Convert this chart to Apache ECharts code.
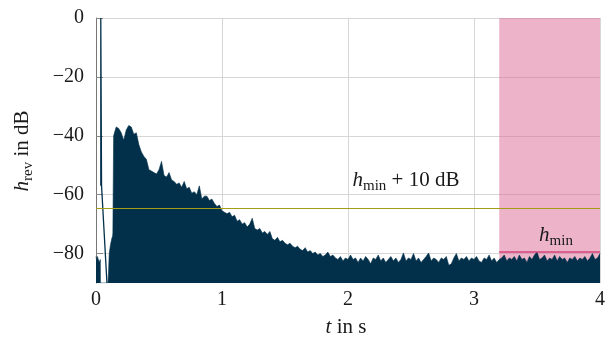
<!DOCTYPE html>
<html>
<head>
<meta charset="utf-8">
<script src="https://cdn.jsdelivr.net/npm/echarts@6/dist/echarts.min.js"></script>
<style>
  html, body { margin: 0; padding: 0; background: #fff; }
  #main { width: 612px; height: 338px; }
</style>
</head>
<body>
<div id="main"></div>
<script>
/*
 * reverberation tail h_rev (dB) over time
 */
var xTicks = [0, 1, 2, 3, 4];
var yTicks = [0, -20, -40, -60, -80];

// noise before direct sound + onset of the reflections
var onsetT = [0, 0.006, 0.012, 0.018, 0.024, 0.03, 0.034, 0.035, 0.095, 0.1, 0.105, 0.115, 0.125, 0.132, 0.134];
var onsetV = [-81, -82.5, -81, -82, -81.5, -83, -82, -90, -90, -86, -80, -77, -75, -74, -73];

// direct sound spike and its slope
var directT = [0.038, 0.038, 0.042, 0.044, 0.087];
var directV = [-57, 0, 0, -57, -90];

// decay, sampled every 0.02 s from 0.14 s
var tailStart = 0.14;
var tailStep = 0.02;
var tailV = [
  -40, -37, -37.5, -39, -41.5, -38, -36.5, -37, -39.5, -39,
  -43, -45.5, -47, -48, -51.5, -52, -52.5, -53, -51.5, -48.7,
  -53.5, -54, -52.5, -55, -55.5, -56.5, -56, -57.5, -55.5, -58,
  -57.5, -59.5, -59, -60, -57, -61.5, -60.5, -60.5, -62, -61.5,
  -63, -64, -63.5, -65.5, -66, -66.5, -66, -67.5, -67, -69,
  -68.5, -70, -69.5, -71, -70, -68, -71.5, -72, -71.5, -73,
  -72.5, -73.5, -72.5, -75, -75.5, -74.5, -76, -75.5, -76.5, -77,
  -76.5, -77.5, -78, -77.5, -78.5, -79, -78, -79.5, -79, -80,
  -79.5, -80.5, -80, -81, -80.5, -79.5, -81, -80.5, -81.5, -82,
  -81, -82.5, -81.5, -82,
  -80.5, -82, -81.5, -83, -81.5, -82.5, -81, -82, -83.5, -81.5,
  -82, -80.5, -82.5, -81.5, -83, -82, -81, -82.5, -81.5, -83,
  -82, -79.8, -82.5, -81.5, -82, -80, -82.5, -81.5, -83, -82,
  -81, -79.8, -82.5, -81.5, -82, -83, -81.5, -82, -81, -84,
  -83.5, -81.5, -80, -82.5, -81.5, -82, -81, -82.5, -81.5, -82,
  -81, -82.5, -83, -81.5, -82, -80.5, -82.5, -81.5, -83, -82,
  -81.5, -80.5, -82.5, -81.5, -82, -81, -82.5, -80.5, -82, -81.5,
  -83, -81, -82, -80.5, -79.5, -82, -81.5, -80.5, -82.5, -81.5,
  -82, -80.5, -82.5, -81, -82, -81.5, -83, -81.5, -82, -81,
  -82.5, -81.5, -82, -81, -82.5, -81.5, -80, -82, -81.5, -80
];

var hMin = -79.5;
var hMinPlus10 = -64.7;
var windowStart = 3.2;
var windowEnd = 4;

var mainData = [];
for (var i = 0; i < onsetT.length; i++) {
    mainData.push([onsetT[i], onsetV[i]]);
}
for (var j = 0; j < tailV.length; j++) {
    mainData.push([+(tailStart + j * tailStep).toFixed(3), tailV[j]]);
}
var directData = directT.map(function (t, k) { return [t, directV[k]]; });

var serif = 'Liberation Serif';
var dark = '#02304a';
var ink = '#1a1a1a';

function minus(v) {
    return String(v).replace('-', '\u2212');
}

// italic symbol + upright subscript + upright rest
function mathRich(size) {
    return {
        i: { fontFamily: serif, fontStyle: 'italic', fontSize: size, lineHeight: 28, fill: ink },
        s: { fontFamily: serif, fontSize: Math.round(size * 0.7), lineHeight: 14, verticalAlign: 'bottom', fill: ink },
        n: { fontFamily: serif, fontSize: size, lineHeight: 28, fill: ink }
    };
}

var chart = echarts.init(document.getElementById('main'));
chart.setOption({
    animation: false,
    grid: { left: 96, right: 12, top: 18, bottom: 55 },
    xAxis: {
        type: 'value', min: 0, max: 4, interval: 1,
        axisLine: { show: false },
        axisTick: { show: false },
        axisLabel: { color: ink, fontFamily: serif, fontSize: 20, margin: 7 },
        splitLine: { lineStyle: { color: '#d6d6d6', width: 1 } }
    },
    yAxis: {
        type: 'value', min: -90, max: 0,
        axisLine: { show: true, onZero: false, lineStyle: { color: '#777', width: 1 } },
        axisTick: { show: true, inside: true, length: 7, customValues: yTicks, lineStyle: { color: '#888' } },
        axisLabel: {
            color: ink, fontFamily: serif, fontSize: 20, margin: 12,
            customValues: yTicks,
            formatter: function (v) { return minus(v); }
        },
        splitLine: { lineStyle: { color: '#d6d6d6', width: 1 } }
    },
    series: [
        {
            type: 'line', name: 'window', data: [],
            markArea: {
                silent: true,
                itemStyle: { color: 'rgba(221,112,152,0.52)' },
                data: [[{ xAxis: windowStart, yAxis: -90 }, { xAxis: windowEnd, yAxis: 0 }]]
            },
            z: 1
        },
        {
            type: 'line', name: 'hrev', data: mainData,
            showSymbol: false, symbol: 'none',
            lineStyle: { color: dark, width: 0.6 },
            areaStyle: { color: dark, opacity: 1, origin: 'start' },
            z: 3
        },
        {
            type: 'line', name: 'direct', data: directData,
            showSymbol: false, symbol: 'none',
            lineStyle: { color: dark, width: 1.3 },
            z: 3
        },
        {
            type: 'line', name: 'hmin10', data: [[0, hMinPlus10], [4, hMinPlus10]],
            showSymbol: false, symbol: 'none',
            lineStyle: { color: '#a39c16', width: 1 },
            z: 4
        },
        {
            type: 'line', name: 'hmin', data: [[windowStart, hMin], [windowEnd, hMin]],
            showSymbol: false, symbol: 'none',
            lineStyle: { color: '#d4447c', width: 1.5 },
            z: 4
        }
    ],
    graphic: [
        {
            type: 'text', x: 346, y: 327, z: 100,
            style: {
                text: '{i|t}{n| in s}', align: 'center', verticalAlign: 'middle',
                rich: mathRich(21)
            }
        },
        {
            type: 'text', x: 22, y: 151, rotation: Math.PI / 2, z: 100,
            style: {
                text: '{i|h}{s|rev}{n| in dB}', align: 'center', verticalAlign: 'middle',
                rich: mathRich(21)
            }
        },
        {
            type: 'text', x: 406, y: 180, z: 100,
            style: {
                text: '{i|h}{s|min}{n| + 10 dB}', align: 'center', verticalAlign: 'middle',
                rich: mathRich(21)
            }
        },
        {
            type: 'text', x: 556, y: 235, z: 100,
            style: {
                text: '{i|h}{s|min}', align: 'center', verticalAlign: 'middle',
                rich: mathRich(21)
            }
        }
    ]
});
</script>
</body>
</html>
